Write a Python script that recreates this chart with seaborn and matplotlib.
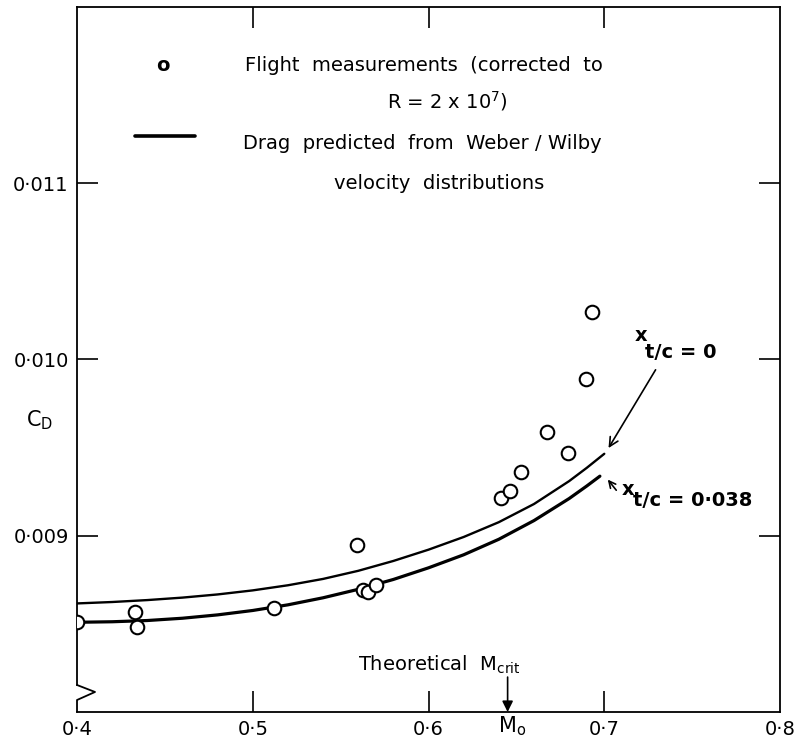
import matplotlib
matplotlib.use("Agg")
import matplotlib.pyplot as plt
import seaborn as sns
import pandas as pd

# Flight measurements of drag coefficient (corrected to R = 2 x 10^7)
flight_mach = [0.400, 0.433, 0.434, 0.512, 0.5595, 0.563, 0.5655, 0.570,
               0.641, 0.6465, 0.6525, 0.6673, 0.6796, 0.6894, 0.6932]
flight_cd = [0.008509, 0.008565, 0.008480, 0.008590, 0.008947, 0.008694,
             0.008683, 0.008720, 0.009214, 0.009255, 0.009363, 0.009591,
             0.009469, 0.009891, 0.010269]

# Predicted drag, transition at x_t/c = 0
pred0_mach = [0.40, 0.42, 0.44, 0.46, 0.48, 0.50, 0.52, 0.54, 0.56, 0.58,
              0.60, 0.62, 0.64, 0.66, 0.68, 0.69, 0.70]
pred0_cd = [0.008616, 0.008624, 0.008635, 0.008649, 0.008667, 0.008690,
            0.008719, 0.008755, 0.008801, 0.008857, 0.008921, 0.008993,
            0.009077, 0.009180, 0.009310, 0.009385, 0.009465]

# Predicted drag, transition at x_t/c = 0.038
pred038_mach = [0.40, 0.42, 0.44, 0.46, 0.48, 0.50, 0.52, 0.54, 0.56, 0.58,
                0.60, 0.62, 0.64, 0.66, 0.68, 0.69, 0.6975]
pred038_cd = [0.008509, 0.008512, 0.008519, 0.008532, 0.008551, 0.008576,
              0.008608, 0.008648, 0.008696, 0.008752, 0.008818, 0.008892,
              0.008980, 0.009086, 0.009211, 0.009282, 0.009338]

m_crit = 0.645

x_ticks = [0.4, 0.5, 0.6, 0.7, 0.8]
x_tick_labels = ["0·4", "0·5", "0·6", "0·7", "0·8"]
y_ticks = [0.009, 0.010, 0.011]
y_tick_labels = ["0·009", "0·010", "0·011"]

sns.set_theme(style="ticks")
plt.rcParams["font.family"] = ["DejaVu Sans"]
plt.rcParams["mathtext.fontset"] = "dejavusans"
plt.rcParams["text.color"] = "black"
plt.rcParams["axes.labelcolor"] = "black"

fig = plt.figure(figsize=(7.98, 7.52), dpi=100)
ax = fig.add_axes([0.0965, 0.0532, 0.8810, 0.9375])

flight = pd.DataFrame({"M": flight_mach, "CD": flight_cd})
curve0 = pd.DataFrame({"M": pred0_mach, "CD": pred0_cd})
curve038 = pd.DataFrame({"M": pred038_mach, "CD": pred038_cd})

sns.lineplot(data=curve0, x="M", y="CD", color="black", lw=1.7,
             estimator=None, sort=True, ax=ax, zorder=2)
sns.lineplot(data=curve038, x="M", y="CD", color="black", lw=2.3,
             estimator=None, sort=True, ax=ax, zorder=2)
sns.scatterplot(data=flight, x="M", y="CD", marker="o", s=95,
                color="white", edgecolor="black", linewidth=1.5,
                ax=ax, zorder=3)

ax.set_xlim(0.4, 0.8)
ax.set_ylim(0.008, 0.012)

ax.set_xticks(x_ticks, x_tick_labels)
ax.set_yticks(y_ticks, y_tick_labels)
ax.tick_params(direction="in", length=15, width=1.2, top=True, right=True,
               labelsize=14, colors="black", pad=6)
for t in (ax.xaxis.get_major_ticks()[0], ax.xaxis.get_major_ticks()[-1]):
    t.tick1line.set_visible(False)
    t.tick2line.set_visible(False)

for sp in ax.spines.values():
    sp.set_linewidth(1.3)
    sp.set_color("black")

# broken-axis zigzag at the foot of the CD axis
ax.spines["left"].set_bounds(0.008153, 0.012)
ax.plot([0, 0.0256, 0, 0], [0.0383, 0.0284, 0.017, 0.0], color="black",
        lw=1.3, transform=ax.transAxes, clip_on=False)

ax.set_xlabel(r"M$_\mathrm{o}$", fontsize=15)
ax.xaxis.set_label_coords(0.619, -0.004)
ax.set_ylabel(r"C$_\mathrm{D}$", fontsize=15, rotation=0, va="center",
              ha="center")
ax.yaxis.set_label_coords(-0.0526, 0.414)

# key
ax.text(0.4489, 0.011666, "o", fontsize=14, fontweight="bold",
        ha="center", va="center")
ax.text(0.4956, 0.011666, "Flight  measurements  (corrected  to",
        fontsize=14, ha="left", va="center")
ax.text(0.6105, 0.011467, r"R = 2 x 10$^{7}$)", fontsize=14,
        ha="center", va="center")
ax.plot([0.4330, 0.4671], [0.011269, 0.011269], color="black", lw=2.6)
ax.text(0.4945, 0.011224, "Drag  predicted  from  Weber / Wilby",
        fontsize=14, ha="left", va="center")
ax.text(0.6060, 0.010997, "velocity  distributions", fontsize=14,
        ha="center", va="center")

# curve labels
ax.text(0.7209, 0.010136, "x", fontsize=14, fontweight="bold",
        ha="center", va="center")
ax.text(0.7232, 0.010040, "t/c = 0", fontsize=14, fontweight="bold",
        ha="left", va="center")
ax.annotate("", xy=(0.7016, 0.009484), xytext=(0.7300, 0.009955),
            arrowprops=dict(arrowstyle="->", lw=1.2, color="black",
                            mutation_scale=16))
ax.text(0.7135, 0.009263, "x", fontsize=14, fontweight="bold",
        ha="center", va="center")
ax.text(0.7164, 0.009201, "t/c = 0·038", fontsize=14, fontweight="bold",
        ha="left", va="center")
ax.annotate("", xy=(0.7010, 0.009331), xytext=(0.7078, 0.009246),
            arrowprops=dict(arrowstyle="->", lw=1.2, color="black",
                            mutation_scale=12))

# theoretical critical Mach number
ax.text(0.5599, 0.008266, r"Theoretical  M$_\mathrm{crit}$", fontsize=14,
        ha="left", va="center")
ax.annotate("", xy=(m_crit, 0.008), xytext=(m_crit, 0.008198),
            arrowprops=dict(arrowstyle="-|>", lw=1.2, color="black",
                            mutation_scale=16, shrinkA=0, shrinkB=0))

fig.savefig("out.png", dpi=100)
